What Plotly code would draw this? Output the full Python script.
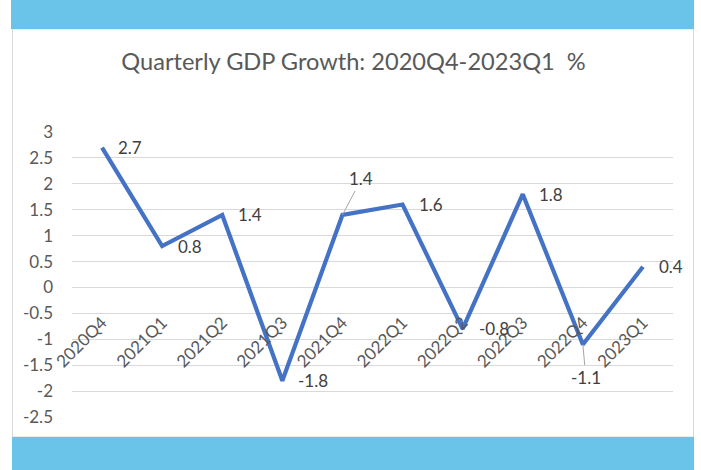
import plotly.graph_objects as go

# ---- data ----
quarters = ["2020Q4", "2021Q1", "2021Q2", "2021Q3", "2021Q4",
            "2022Q1", "2022Q2", "2022Q3", "2022Q4", "2023Q1"]
growth = [2.7, 0.8, 1.4, -1.8, 1.4, 1.6, -0.8, 1.8, -1.1, 0.4]
y_ticks = [3, 2.5, 2, 1.5, 1, 0.5, 0, -0.5, -1, -1.5, -2, -2.5]
y_tick_labels = ["3", "2.5", "2", "1.5", "1", "0.5", "0", "-0.5", "-1", "-1.5", "-2", "-2.5"]
title_text = "Quarterly GDP Growth: 2020Q4-2023Q1  %"

W, H = 701, 470
ML, MR, MT, MB = 72, 28, 132, 53
PW, PH = W - ML - MR, H - MT - MB
FONT = "Lato, 'Open Sans', sans-serif"
GREY = "#595959"
LBL = "#404040"


def px(x):
    return (x - ML) / PW


def py(y):
    return (H - MB - y) / PH


ymin, ymax = min(y_ticks), max(y_ticks)

fig = go.Figure()
fig.add_trace(go.Scatter(x=quarters, y=growth, mode="lines",
                         line=dict(color="#4472C4", width=4.2),
                         hoverinfo="x+y", showlegend=False))

# data labels
annotations = []
special = {4: (19, -36), 8: (3, 33)}
for i, (q, v) in enumerate(zip(quarters, growth)):
    txt = str(v)
    if i in special:
        ax, ay = special[i]
        annotations.append(dict(x=q, y=v, xref="x", yref="y", text=txt,
                                showarrow=True, arrowhead=0, arrowwidth=1,
                                arrowcolor="#A6A6A6", ax=ax, ay=ay,
                                font=dict(family=FONT, size=17, color=LBL)))
    else:
        annotations.append(dict(x=q, y=v, xref="x", yref="y", text=txt,
                                showarrow=False, xanchor="left", yanchor="middle",
                                xshift=14,
                                font=dict(family=FONT, size=17, color=LBL)))

shapes = [
    # chart area border
    dict(type="rect", xref="paper", yref="paper",
         x0=px(12.5), x1=px(693.5), y0=py(437), y1=py(29),
         line=dict(color="#D9D9D9", width=1), fillcolor="white", layer="below"),
    # top band
    dict(type="rect", xref="paper", yref="paper",
         x0=px(11), x1=px(694), y0=py(29), y1=py(0),
         line=dict(width=0), fillcolor="#6AC4EA", layer="below"),
    # bottom band
    dict(type="rect", xref="paper", yref="paper",
         x0=px(12), x1=px(694), y0=py(470), y1=py(437),
         line=dict(width=0), fillcolor="#6AC4EA", layer="below"),
]

fig.update_layout(
    width=W, height=H,
    margin=dict(l=ML, r=MR, t=MT, b=MB),
    paper_bgcolor="white", plot_bgcolor="rgba(0,0,0,0)",
    title=dict(text=title_text, x=353.5 / W, xanchor="center",
               y=1 - 62 / H, yanchor="middle",
               font=dict(family=FONT, size=23.6, color=GREY)),
    xaxis=dict(type="category", categoryarray=quarters, range=[-0.5, len(quarters) - 0.5],
               anchor="free", position=(0 - ymin) / (ymax - ymin),
               showgrid=False, showline=False, zeroline=False, ticks="",
               tickangle=-45, ticklabelstandoff=21,
               tickfont=dict(family=FONT, size=17, color=GREY)),
    yaxis=dict(range=[ymin, ymax], tickvals=y_ticks, ticktext=y_tick_labels,
               showgrid=True, gridcolor="#D9D9D9", gridwidth=1, zeroline=False,
               showline=False, ticks="", ticklabelstandoff=18,
               tickfont=dict(family=FONT, size=17, color=GREY)),
    annotations=annotations,
    shapes=shapes,
)

fig.write_html("out.html")
